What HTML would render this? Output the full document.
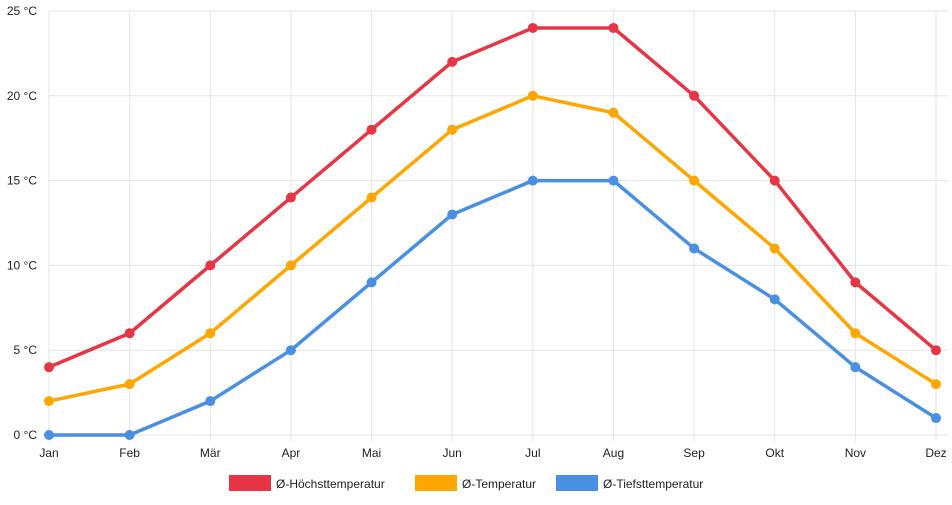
<!DOCTYPE html>
<html><head><meta charset="utf-8"><style>
body{margin:0;background:#fff;font-family:"Liberation Sans",sans-serif;}
svg text{font-family:"Liberation Sans",sans-serif;font-size:12px;fill:#222;}
</style></head><body>
<svg id="chart" width="952" height="500"></svg>
<script>
const months=["Jan","Feb","Mär","Apr","Mai","Jun","Jul","Aug","Sep","Okt","Nov","Dez"];
const highTemps=[4,6,10,14,18,22,24,24,20,15,9,5];
const meanTemps=[2,3,6,10,14,18,20,19,15,11,6,3];
const lowTemps=[0,0,2,5,9,13,15,15,11,8,4,1];
const yTicks=[0,5,10,15,20,25];
const seriesNames=["Ø-Höchsttemperatur","Ø-Temperatur","Ø-Tiefsttemperatur"];

const NS="http://www.w3.org/2000/svg";
const svg=document.getElementById('chart');
const x0=49,x1=936,y0=435,y1=11;
const xs=i=>x0+(x1-x0)*i/(months.length-1);
const ys=v=>y0-(y0-y1)*v/25;
function mk(t,a,p){const e=document.createElementNS(NS,t);for(const k in a)e.setAttribute(k,a[k]);(p||svg).appendChild(e);return e;}

const grid=mk('g',{});


yTicks.forEach(v=>{
  const l=mk('line',{x1:x0,x2:x1+12,y1:ys(v),y2:ys(v),stroke:'#e5e5e5','stroke-width':1},grid);
  
  
  const t=mk('text',{x:x0-12,y:ys(v)+4,'text-anchor':'end'});
  t.textContent=v+' °C';
  
  
});
months.forEach((m,i)=>{
  const l=mk('line',{x1:xs(i),x2:xs(i),y1:y1,y2:y0+6,stroke:'#e5e5e5','stroke-width':1},grid);
  
  
  const t=mk('text',{x:xs(i),y:y0+22,'text-anchor':'middle'});
  t.textContent=m;
  
  
});

const series=[[highTemps,'#e63645'],[meanTemps,'#ffa600'],[lowTemps,'#4a90e2']];
series.forEach(([d,c],si)=>{
  const g=mk('g',{});
  
  
  const p=mk('polyline',{points:d.map((v,i)=>xs(i)+','+ys(v)).join(' '),fill:'none',stroke:c,'stroke-width':3.5,'stroke-linejoin':'round'},g);
  
  
  d.forEach((v,i)=>{
    const ci=mk('circle',{cx:xs(i),cy:ys(v),r:5,fill:c},g);
    
    
  });
});

const legendX=[229,415,556];
series.forEach(([d,c],si)=>{
  const g=mk('g',{});
  
  
  mk('rect',{x:legendX[si],y:475,width:42,height:16,fill:c},g);
  const t=mk('text',{x:legendX[si]+47,y:488},g);
  t.textContent=seriesNames[si];
});
</script>
</body></html>
